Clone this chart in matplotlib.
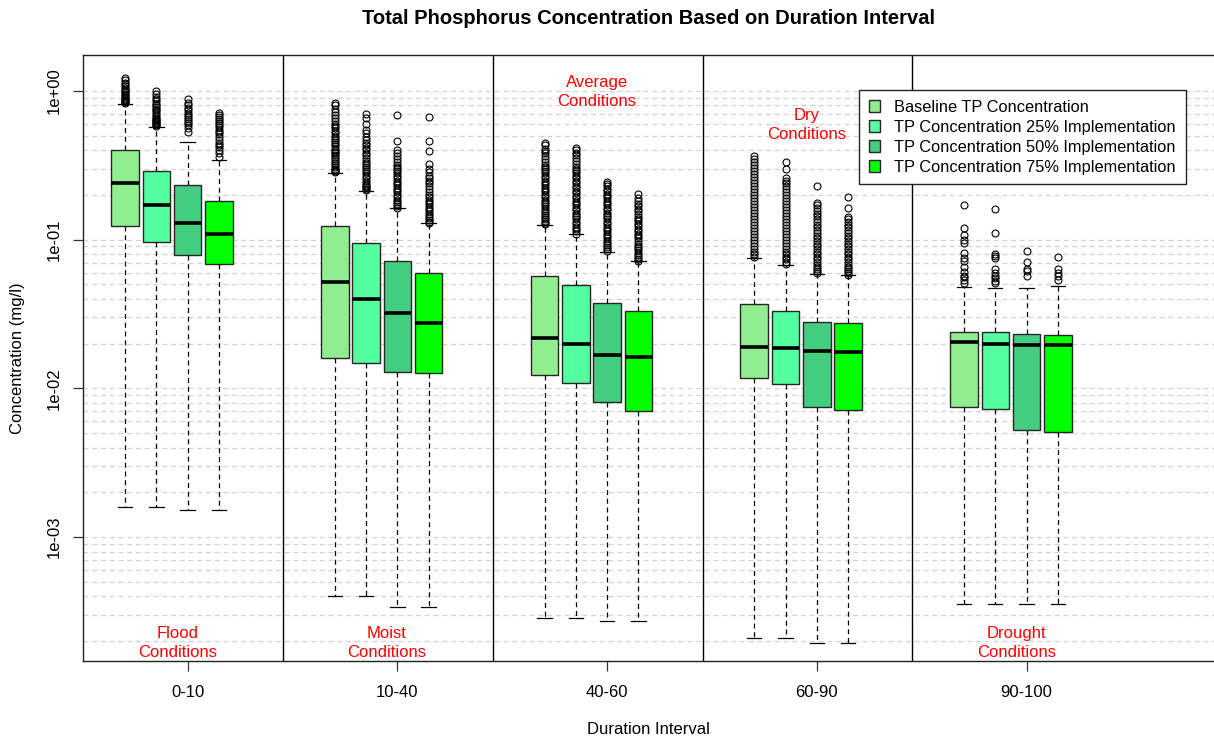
import numpy as np
import matplotlib
matplotlib.use("Agg")
from matplotlib import pyplot as plt
from matplotlib.patches import Patch
from matplotlib.ticker import FixedLocator, LogLocator, FuncFormatter, NullFormatter
from matplotlib.transforms import blended_transform_factory

plt.rcParams['font.family'] = ['Liberation Sans', 'DejaVu Sans']

INTERVALS = ['0-10', '10-40', '40-60', '60-90', '90-100']
CONDITIONS = ['Flood\nConditions', 'Moist\nConditions', 'Average\nConditions',
              'Dry\nConditions', 'Drought\nConditions']
SERIES = ['Baseline TP Concentration',
          'TP Concentration 25% Implementation',
          'TP Concentration 50% Implementation',
          'TP Concentration 75% Implementation']
COLORS = ['#90EE90', '#54FF9F', '#43CD80', '#00FF00']

# box statistics per series, one value per duration interval (mg/l)
WHISLO = [[0.00159, 4.02e-4, 2.84e-4, 2.09e-4, 3.53e-4],
          [0.00159, 4.02e-4, 2.84e-4, 2.09e-4, 3.53e-4],
          [0.00151, 3.37e-4, 2.73e-4, 1.95e-4, 3.53e-4],
          [0.00151, 3.37e-4, 2.73e-4, 1.95e-4, 3.53e-4]]
Q1 = [[0.124, 0.0161, 0.0123, 0.0118, 0.00746],
      [0.0961, 0.0148, 0.0108, 0.01065, 0.00727],
      [0.0785, 0.01295, 0.0081, 0.0075, 0.00525],
      [0.0687, 0.01264, 0.00701, 0.00716, 0.00512]]
MEDIAN = [[0.239, 0.0519, 0.0217, 0.0189, 0.0204],
          [0.172, 0.0401, 0.0199, 0.0186, 0.0199],
          [0.129, 0.032, 0.0168, 0.01786, 0.0196],
          [0.1087, 0.0274, 0.0163, 0.0176, 0.0197]]
Q3 = [[0.399, 0.124, 0.0573, 0.0368, 0.0241],
      [0.290, 0.0946, 0.0493, 0.0331, 0.0241],
      [0.233, 0.0722, 0.0377, 0.0281, 0.0231],
      [0.183, 0.0594, 0.0331, 0.0274, 0.0228]]
WHISHI = [[0.818, 0.282, 0.126, 0.0757, 0.0479],
          [0.575, 0.214, 0.109, 0.0676, 0.0471],
          [0.454, 0.1626, 0.0827, 0.0585, 0.0471],
          [0.344, 0.129, 0.0716, 0.0576, 0.049]]

# outliers beyond the upper whisker
OUT_BASE = [
    [1.22, 1.18, 1.14, 1.11, 1.08, 1.05, 1.02, 1.0, 0.98, 0.96, 0.94, 0.92, 0.90, 0.88,
     0.87, 0.86, 0.85, 0.84, 0.83],
    [0.834, 0.80, 0.76, 0.72, 0.69, 0.66, 0.63, 0.60, 0.58, 0.56, 0.54, 0.52, 0.50, 0.485,
     0.47, 0.455, 0.44, 0.425, 0.41, 0.40, 0.39, 0.38, 0.37, 0.36, 0.35, 0.34, 0.33, 0.32,
     0.31, 0.30, 0.295, 0.29, 0.285],
    [0.45, 0.43, 0.41, 0.395, 0.38, 0.365, 0.35, 0.335, 0.32, 0.31, 0.30, 0.29, 0.28, 0.27,
     0.26, 0.25, 0.24, 0.232, 0.224, 0.216, 0.208, 0.20, 0.193, 0.186, 0.18, 0.174, 0.168,
     0.162, 0.157, 0.152, 0.147, 0.142, 0.138, 0.134, 0.13, 0.127],
    [0.366, 0.35, 0.335, 0.32, 0.305, 0.29, 0.277, 0.265, 0.253, 0.242, 0.231, 0.22, 0.21,
     0.20, 0.191, 0.182, 0.174, 0.166, 0.158, 0.151, 0.144, 0.137, 0.131, 0.125, 0.119,
     0.114, 0.109, 0.104, 0.099, 0.095, 0.091, 0.087, 0.083, 0.08, 0.077],
    [0.171, 0.119, 0.1075, 0.0996, 0.0946, 0.0811, 0.075, 0.0722, 0.0652, 0.0609, 0.057,
     0.0559, 0.0536, 0.0509],
]
OUT_25 = [
    [1.0, 0.95, 0.91, 0.88, 0.85, 0.82, 0.80, 0.78, 0.76, 0.74, 0.72, 0.70, 0.68, 0.66,
     0.65, 0.64, 0.63, 0.62, 0.61, 0.60, 0.59, 0.585],
    [0.70, 0.66, 0.60, 0.55, 0.52, 0.49, 0.47, 0.45, 0.43, 0.415, 0.40, 0.385, 0.37, 0.355,
     0.34, 0.33, 0.32, 0.31, 0.30, 0.29, 0.28, 0.27, 0.26, 0.25, 0.24, 0.235, 0.23, 0.225,
     0.22, 0.215],
    [0.416, 0.40, 0.385, 0.37, 0.355, 0.34, 0.325, 0.31, 0.30, 0.29, 0.28, 0.27, 0.26, 0.25,
     0.24, 0.23, 0.222, 0.214, 0.206, 0.198, 0.19, 0.183, 0.176, 0.17, 0.164, 0.158, 0.152,
     0.147, 0.142, 0.137, 0.132, 0.127, 0.122, 0.118, 0.114, 0.11],
    [0.335, 0.30, 0.26, 0.25, 0.24, 0.23, 0.22, 0.21, 0.20, 0.191, 0.182, 0.174, 0.166,
     0.158, 0.151, 0.144, 0.137, 0.131, 0.125, 0.119, 0.114, 0.109, 0.104, 0.099, 0.095,
     0.091, 0.087, 0.083, 0.08, 0.077, 0.074, 0.071, 0.069],
    [0.16, 0.1104, 0.0801, 0.0777, 0.075, 0.0632, 0.06, 0.057, 0.055, 0.053, 0.0509],
]
OUT_50 = [
    [0.88, 0.83, 0.80, 0.77, 0.74, 0.71, 0.69, 0.67, 0.65, 0.63, 0.61, 0.59, 0.56, 0.53],
    [0.686, 0.461, 0.40, 0.38, 0.365, 0.35, 0.335, 0.32, 0.31, 0.30, 0.29, 0.28, 0.27,
     0.26, 0.25, 0.24, 0.232, 0.224, 0.216, 0.208, 0.20, 0.193, 0.186, 0.18, 0.174, 0.168,
     0.164],
    [0.245, 0.236, 0.228, 0.22, 0.212, 0.204, 0.197, 0.19, 0.183, 0.176, 0.17, 0.164,
     0.158, 0.152, 0.147, 0.142, 0.137, 0.132, 0.127, 0.122, 0.118, 0.114, 0.11, 0.106,
     0.102, 0.098, 0.095, 0.092, 0.089, 0.086, 0.084],
    [0.231, 0.177, 0.17, 0.163, 0.156, 0.15, 0.144, 0.138, 0.132, 0.126, 0.121, 0.116,
     0.111, 0.106, 0.102, 0.098, 0.094, 0.09, 0.086, 0.083, 0.08, 0.077, 0.074, 0.071,
     0.068, 0.066, 0.064, 0.062, 0.06],
    [0.0843, 0.0705, 0.0635, 0.0619, 0.0573],
]
OUT_75 = [
    [0.71, 0.69, 0.67, 0.65, 0.63, 0.61, 0.59, 0.57, 0.55, 0.53, 0.51, 0.49, 0.47, 0.45,
     0.43, 0.42, 0.40, 0.38, 0.36],
    [0.672, 0.461, 0.397, 0.325, 0.30, 0.285, 0.27, 0.26, 0.25, 0.24, 0.23, 0.22, 0.21,
     0.20, 0.193, 0.186, 0.18, 0.173, 0.167, 0.161, 0.155, 0.15, 0.145, 0.14, 0.136, 0.132,
     0.13],
    [0.203, 0.19, 0.182, 0.175, 0.168, 0.161, 0.155, 0.149, 0.143, 0.138, 0.133, 0.128,
     0.123, 0.118, 0.114, 0.11, 0.106, 0.102, 0.098, 0.094, 0.091, 0.088, 0.085, 0.082,
     0.079, 0.076, 0.074, 0.072],
    [0.195, 0.164, 0.143, 0.137, 0.131, 0.126, 0.121, 0.116, 0.111, 0.106, 0.102, 0.098,
     0.094, 0.09, 0.086, 0.083, 0.08, 0.077, 0.074, 0.071, 0.068, 0.066, 0.064, 0.062,
     0.06, 0.058],
    [0.0769, 0.0635, 0.0594, 0.057, 0.0536],
]
OUTLIERS = [OUT_BASE, OUT_25, OUT_50, OUT_75]

GROUP_STEP = 6.7
group_start = np.arange(len(INTERVALS)) * GROUP_STEP

fig = plt.figure(figsize=(12.14, 7.43), dpi=100)
ax = fig.add_axes([83 / 1214, 82 / 743, 1133 / 1214, 606 / 743])

dash = (0, (4, 3))
for s in range(len(SERIES)):
    stats = []
    for g in range(len(INTERVALS)):
        stats.append(dict(whislo=WHISLO[s][g], q1=Q1[s][g], med=MEDIAN[s][g],
                          q3=Q3[s][g], whishi=WHISHI[s][g], fliers=OUTLIERS[s][g]))
    ax.bxp(stats, positions=group_start + s, widths=0.88, capwidths=0.46,
           patch_artist=True, manage_ticks=False,
           boxprops=dict(facecolor=COLORS[s], edgecolor='#262626', linewidth=1.0),
           whiskerprops=dict(color='black', linewidth=0.9, linestyle=dash),
           capprops=dict(color='black', linewidth=0.9),
           medianprops=dict(color='black', linewidth=2.6, solid_capstyle='butt'),
           flierprops=dict(marker='o', markerfacecolor='none', markeredgecolor='black',
                           markersize=5, markeredgewidth=0.8))

ax.set_yscale('log')
ax.set_ylim(1.468e-4, 1.746)
ax.set_xlim(-1.342, 34.85)

ax.yaxis.set_major_locator(FixedLocator([1e-3, 1e-2, 1e-1, 1.0]))
ax.yaxis.set_major_formatter(FuncFormatter(lambda v, p: f"{v:.0e}"))
ax.yaxis.set_minor_locator(LogLocator(base=10, subs=np.arange(2, 10)))
ax.yaxis.set_minor_formatter(NullFormatter())
ax.tick_params(axis='y', which='minor', length=0)
ax.tick_params(axis='y', which='major', length=7, width=0.9, pad=8, labelsize=12,
               labelrotation=90, color='#333333')
for lbl in ax.get_yticklabels():
    lbl.set_va('center')
ax.grid(True, axis='y', which='both', color='#D3D3D3', linestyle=dash, linewidth=0.9)
ax.set_axisbelow(True)

ax.set_xticks(group_start + 2)
ax.set_xticklabels(INTERVALS)
ax.tick_params(axis='x', length=7, width=0.9, pad=10, labelsize=12, color='#333333')

for sp in ax.spines.values():
    sp.set_color('#222222')
    sp.set_linewidth(1.0)

# separators between duration intervals
for x in group_start[:-1] + 5.05:
    ax.axvline(x, color='black', linewidth=1.0)

trans = blended_transform_factory(ax.transData, ax.transAxes)
cond_y = [0.030, 0.030, 0.939, 0.884, 0.030]
for g, txt in enumerate(CONDITIONS):
    ax.text(group_start[g] + 1.67, cond_y[g], txt, transform=trans, color='red',
            fontsize=12, ha='center', va='center', linespacing=1.35)

handles = [Patch(facecolor=c, edgecolor='#262626', linewidth=1.0) for c in COLORS]
fig.legend(handles, SERIES, loc='upper left', bbox_to_anchor=(859 / 1214, 1 - 90 / 743),
           bbox_transform=fig.transFigure, fontsize=11.8, frameon=True, fancybox=False,
           edgecolor='#222222', framealpha=1, borderaxespad=0, handlelength=0.7,
           handleheight=0.7, handletextpad=0.85, labelspacing=0.3, borderpad=0.6)

fig.text(648 / 1214, 1 - 18 / 743, 'Total Phosphorus Concentration Based on Duration Interval',
         ha='center', va='center', fontsize=14.5, fontweight='bold')
fig.text(648 / 1214, 1 - 730 / 743, 'Duration Interval', ha='center', va='center', fontsize=12)
fig.text(18 / 1214, 1 - 358 / 743, 'Concentration (mg/l)', ha='center', va='center',
         rotation=90, fontsize=12)

fig.savefig('out.png', dpi=100)
